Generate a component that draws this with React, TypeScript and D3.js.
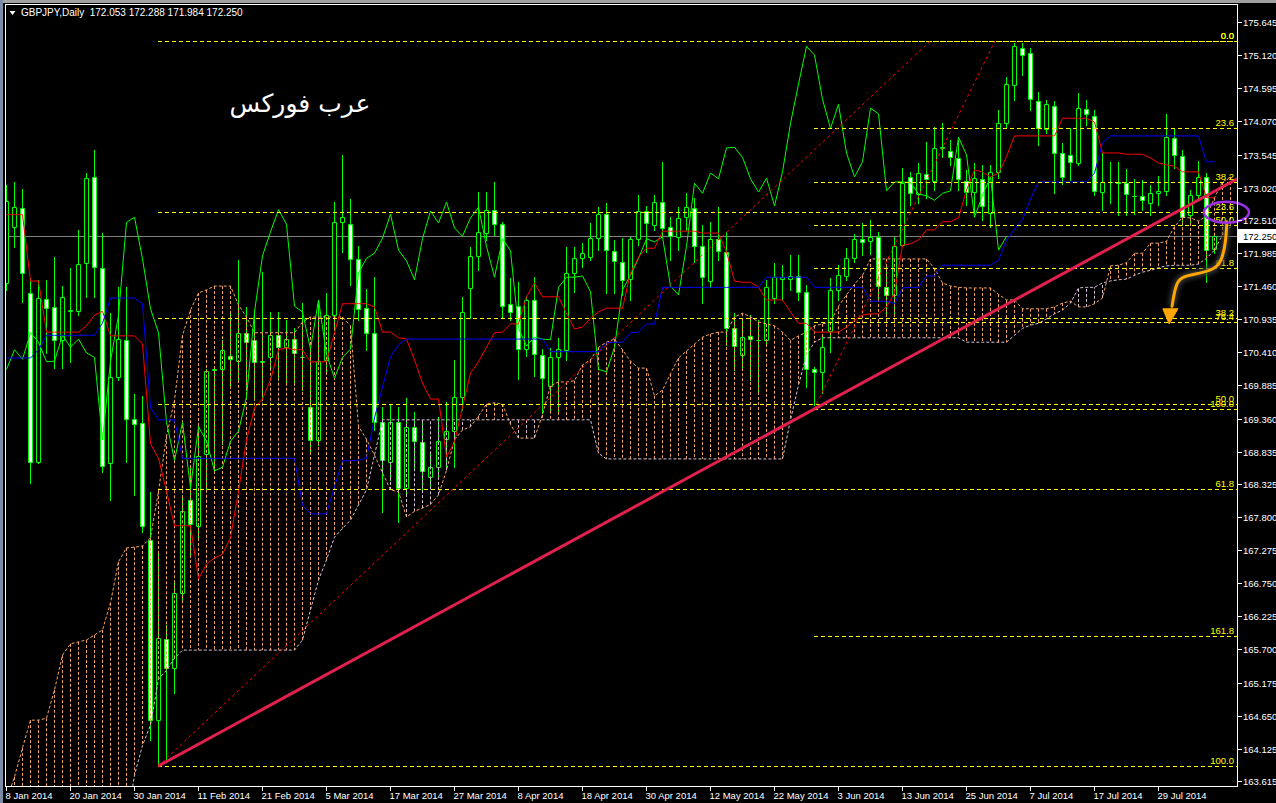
import React from "react";
import * as d3 from "d3";

// ---------- DATA ----------
const opens = [171.51,172.39,172.70,171.35,168.67,171.25,171.13,170.60,171.06,171.06,
171.82,173.19,171.74,168.65,170.02,170.60,169.35,169.29,167.43,164.58,
165.86,165.40,166.59,168.07,167.66,168.80,170.13,170.14,170.35,170.27,
170.72,170.60,170.26,170.34,170.68,170.49,170.62,170.34,169.54,169.02,
170.29,171.00,172.47,172.44,171.89,171.11,170.72,169.30,168.67,169.30,
168.26,169.23,168.99,168.43,168.60,169.03,169.16,169.70,171.43,171.94,
172.30,172.67,172.44,171.17,171.14,170.46,171.24,170.37,169.87,170.33,
170.45,171.67,171.90,171.92,172.22,172.60,172.02,171.84,171.57,172.21,
172.65,172.43,172.79,172.40,172.24,172.55,172.70,172.09,171.54,172.21,
172.00,170.79,170.37,170.67,170.60,170.60,171.27,171.57,171.57,171.62,
171.37,170.14,170.10,170.75,171.40,171.62,171.90,172.21,172.17,172.24,
171.44,171.32,172.11,173.19,172.92,173.24,173.13,173.65,173.60,173.49,
173.13,172.95,173.16,172.62,173.27,174.04,174.64,175.23,175.15,174.39,
173.95,174.31,173.57,173.54,173.41,174.27,174.16,172.95,173.11,173.11,
173.09,172.89,172.89,172.78,172.93,172.97,173.81,173.52,172.59,172.90,
173.19,172.053];
const highs = [173.06,173.11,173.00,171.59,171.56,171.56,171.92,171.46,171.74,172.35,
173.25,173.62,172.30,171.03,171.44,171.44,169.75,169.72,168.20,167.24,
166.09,166.78,168.15,168.61,169.24,170.14,170.19,170.60,171.06,171.87,
171.13,171.08,171.68,171.05,171.05,170.92,170.79,171.19,170.45,171.21,
171.35,172.79,173.54,172.84,172.09,171.41,171.60,169.54,169.57,169.54,
169.68,169.46,169.34,168.83,169.38,169.62,170.29,171.28,172.08,172.95,
172.95,173.11,172.48,171.59,171.52,171.30,171.60,170.46,170.48,170.64,
172.08,172.08,172.14,172.46,172.71,172.78,172.19,172.22,172.24,172.90,
172.73,172.90,173.43,172.55,172.71,172.93,172.86,172.43,172.48,172.71,
172.32,171.03,170.92,171.00,170.92,171.56,171.82,171.79,171.95,171.95,
171.48,170.18,170.68,171.59,171.79,172.06,172.29,172.46,172.51,172.32,
171.79,172.24,173.33,173.27,173.41,173.74,173.98,174.04,173.77,173.77,
173.30,173.41,173.38,173.38,174.25,174.77,175.31,175.31,175.23,174.54,
174.41,174.39,173.73,173.96,174.52,174.41,174.25,173.57,173.43,173.43,
173.32,173.16,173.14,173.06,173.20,174.19,173.96,173.62,172.98,173.44,
173.25,172.288];
const lows = [171.40,172.08,171.21,168.34,168.65,170.40,170.16,170.16,170.26,171.00,
171.29,171.29,168.51,168.07,169.97,168.67,168.15,167.56,164.26,163.87,
163.95,165.01,166.48,167.18,167.47,168.24,168.54,168.96,169.89,169.97,
169.81,169.65,169.65,170.13,169.97,169.92,169.89,169.81,168.81,168.94,
170.10,170.76,172.00,171.48,170.92,170.45,169.18,167.88,168.39,167.72,
168.15,168.54,168.23,168.26,168.42,168.59,168.59,169.49,170.95,171.71,
172.19,172.27,170.97,170.92,169.98,170.35,170.03,169.45,169.49,169.46,
170.29,171.37,171.76,171.87,172.03,171.35,171.35,171.32,171.24,172.11,
172.00,172.35,172.27,171.87,172.03,172.35,171.84,171.19,171.44,171.87,
170.52,170.13,170.17,169.97,169.76,170.52,171.19,171.24,171.40,171.24,
169.86,169.57,169.76,170.41,171.24,171.56,171.84,171.95,171.97,171.24,
171.00,171.03,172.09,172.74,172.78,172.86,172.98,173.50,173.38,172.98,
172.74,172.62,172.51,172.39,173.17,173.96,174.41,174.80,174.25,173.69,
173.88,172.93,173.08,173.14,173.38,174.01,172.90,172.67,172.78,172.59,
172.59,172.60,172.67,172.59,172.74,172.90,173.33,172.43,172.47,172.82,
171.52,171.984];
const closes = [172.81,172.71,171.67,168.67,171.27,171.11,170.60,171.29,171.08,171.81,
173.17,171.76,168.61,170.02,170.62,169.35,169.27,167.66,164.58,165.88,
165.40,166.59,167.89,167.69,168.77,170.11,170.14,170.45,170.30,170.72,
170.57,170.26,170.27,170.68,170.49,170.62,170.40,170.33,169.02,170.27,
171.00,172.47,172.55,171.89,171.10,170.72,169.30,168.70,169.30,168.26,
169.23,169.00,168.53,168.59,169.00,169.16,169.70,171.05,171.94,172.32,
172.67,172.44,171.14,171.05,170.46,171.24,170.38,170.00,170.33,170.46,
171.67,171.90,171.98,172.22,172.60,172.03,171.86,171.56,172.21,172.65,
172.46,172.79,172.38,172.25,172.54,172.71,172.09,171.60,172.21,172.02,
170.79,170.51,170.65,170.62,170.61,171.44,171.60,171.60,171.62,171.37,
170.14,170.10,170.49,171.40,171.63,171.90,172.21,172.16,172.24,171.46,
171.32,172.09,173.09,172.93,173.25,173.16,173.65,173.66,173.50,173.16,
172.95,173.17,172.73,173.27,174.04,174.66,175.26,175.12,174.42,173.96,
174.34,173.57,173.19,173.43,174.28,174.19,172.97,173.11,173.11,173.10,
172.92,172.89,172.82,172.93,172.97,173.82,173.54,172.55,172.90,173.19,
172.03,172.250];

const tenkan = [172.59,172.59,172.59,171.54,171.54,170.73,170.73,170.73,170.73,170.73,
170.83,171.00,171.06,170.67,170.67,170.67,170.67,170.54,168.96,168.73,
168.21,167.66,167.66,167.66,166.82,167.05,167.15,167.21,167.47,168.21,
169.02,169.53,169.67,169.97,170.45,170.48,170.45,170.45,170.26,170.26,
170.26,170.72,171.18,171.18,171.18,171.18,171.13,170.73,170.73,170.64,
170.62,170.29,169.92,169.67,169.67,168.75,168.99,169.54,170.08,170.26,
170.49,170.72,170.73,170.86,170.86,171.29,171.51,171.29,171.29,171.29,
171.03,170.78,170.81,170.95,171.05,171.11,171.11,171.11,171.67,171.92,
172.06,172.06,172.33,172.33,172.33,172.33,172.33,172.30,172.30,172.30,
172.00,171.54,171.52,171.52,171.44,171.24,171.24,171.24,171.05,170.87,
170.87,170.73,170.73,170.73,170.73,170.81,170.92,171.00,171.02,171.02,
171.13,171.35,172.11,172.13,172.19,172.35,172.35,172.48,172.48,172.54,
172.98,173.30,173.27,173.19,173.25,173.51,173.84,173.84,173.84,173.84,
173.84,173.84,174.12,174.12,174.12,174.12,174.06,173.57,173.57,173.57,
173.55,173.55,173.55,173.49,173.41,173.38,173.36,173.27,173.27,173.27,
172.86,172.86];
const kijun = [170.32,170.32,170.32,170.32,170.45,170.68,170.68,170.68,170.68,170.68,
170.68,170.68,170.87,171.27,171.27,171.27,171.27,171.18,169.53,169.34,
169.34,169.34,168.73,168.73,168.73,168.73,168.73,168.73,168.73,168.73,
168.73,168.73,168.73,168.73,168.73,168.73,168.73,167.99,167.85,167.85,
167.85,168.28,168.69,168.69,168.70,168.73,169.37,169.86,170.34,170.53,
170.62,170.62,170.62,170.62,170.62,170.62,170.62,170.62,170.62,170.62,
170.62,170.62,170.62,170.62,170.62,170.62,170.62,170.62,170.42,170.42,
170.42,170.42,170.42,170.42,170.42,170.56,170.57,170.57,170.72,170.73,
170.86,170.86,171.44,171.44,171.44,171.44,171.44,171.44,171.44,171.44,
171.44,171.44,171.44,171.44,171.44,171.60,171.60,171.60,171.60,171.60,
171.60,171.44,171.44,171.44,171.44,171.44,171.44,171.44,171.22,171.22,
171.22,171.18,171.43,171.44,171.44,171.62,171.62,171.79,171.79,171.79,
171.79,171.79,171.79,171.79,171.87,172.19,172.36,172.52,172.84,173.11,
173.11,173.11,173.11,173.11,173.11,173.11,173.25,173.73,173.84,173.84,
173.84,173.84,173.84,173.84,173.84,173.84,173.84,173.84,173.84,173.84,
173.43,173.43];
const spanA = [163.31,163.68,164.14,164.58,164.58,164.61,165.06,165.61,165.79,165.82,
165.85,165.93,166.01,166.44,167.09,167.31,167.32,167.34,167.47,168.21,
169.08,169.65,170.68,171.08,171.35,171.40,171.46,171.46,171.46,171.16,
170.97,170.72,170.72,170.72,170.72,170.72,170.72,170.89,170.97,170.97,
170.97,170.97,170.97,170.83,169.24,169.03,168.78,168.50,168.23,168.20,
167.80,167.89,167.94,168.00,168.15,168.54,169.02,169.18,169.23,169.40,
169.59,169.61,169.59,169.27,169.05,169.05,169.05,169.42,169.88,169.94,
169.94,169.96,170.21,170.29,170.49,170.57,170.62,170.45,170.27,170.16,
170.16,169.72,169.81,170.07,170.32,170.43,170.54,170.65,170.70,170.73,
170.73,170.97,171.03,170.97,170.89,170.86,170.83,170.73,170.60,170.67,
170.73,170.83,170.86,170.89,171.14,171.32,171.49,171.63,171.89,171.89,
171.89,171.89,171.89,171.89,171.89,171.89,171.74,171.51,171.46,171.44,
171.43,171.43,171.43,171.43,171.33,171.24,171.24,171.10,171.10,171.10,
171.10,171.13,171.19,171.22,171.13,171.13,171.18,171.27,171.78,171.79,
171.83,171.98,171.98,172.14,172.14,172.17,172.40,172.55,172.54,172.49,
172.57,172.86,173.11,173.19];
const spanB = [162.90,162.90,162.90,162.90,162.90,162.90,162.90,162.90,162.90,162.90,
162.90,162.90,162.90,162.90,162.90,162.90,163.71,164.18,164.50,165.23,
165.37,165.56,165.69,165.69,165.69,165.69,165.69,165.69,165.69,165.69,
165.69,165.69,165.69,165.69,165.69,165.69,165.69,165.85,166.33,166.80,
167.12,167.48,167.62,167.75,167.99,168.23,168.78,169.34,169.34,169.34,
169.34,169.34,169.34,169.34,169.34,169.34,169.34,169.34,169.34,169.34,
169.34,169.34,169.34,169.34,169.34,169.34,169.34,169.34,169.34,169.34,
169.34,169.34,169.34,169.34,168.81,168.72,168.72,168.72,168.72,168.72,
168.72,168.72,168.72,168.72,168.72,168.72,168.72,168.72,168.72,168.72,
168.72,168.72,168.72,168.72,168.72,168.72,168.72,168.72,169.34,169.89,
170.37,170.57,170.64,170.64,170.64,170.64,170.64,170.64,170.64,170.64,
170.64,170.64,170.64,170.64,170.64,170.64,170.64,170.64,170.64,170.64,
170.57,170.57,170.57,170.57,170.57,170.57,170.68,170.79,170.84,170.87,
170.94,171.02,171.08,171.19,171.43,171.44,171.44,171.51,171.54,171.56,
171.57,171.63,171.68,171.71,171.75,171.78,171.79,171.79,171.79,171.81,
171.90,172.03,172.27,172.40];

const chikouShift = 26;

const priceTicks = [175.645,175.120,174.595,174.070,173.545,173.020,172.510,171.985,171.460,
170.935,170.410,169.885,169.360,168.835,168.325,167.800,167.275,166.750,166.225,165.700,
165.175,164.650,164.125,163.615];
const dateBars = [0,8,16,24,32,40,48,56,64,72,80,88,96,104,112,120,128,136,144];
const dateLabels = ["8 Jan 2014","20 Jan 2014","30 Jan 2014","11 Feb 2014","21 Feb 2014",
"5 Mar 2014","17 Mar 2014","27 Mar 2014","8 Apr 2014","18 Apr 2014","30 Apr 2014",
"12 May 2014","22 May 2014","3 Jun 2014","13 Jun 2014","25 Jun 2014","7 Jul 2014",
"17 Jul 2014","29 Jul 2014"];

const fibAStartBar = 19;
const fibALevels = [175.34,172.63,170.95,169.595,168.24,163.85];
const fibALabels = ["0.0","23.6","38.2","50.0","61.8","100.0"];
const fibBStartBar = 101;
const fibBLevels = [175.34,173.96,173.11,172.43,171.74,170.89,169.51,165.91];
const fibBLabels = ["0.0","23.6","38.2","50.0","61.8","76.4","100.0","161.8"];
const fibADiag = [[19,163.85],[115.5,175.34]];
const fibBDiag = [[101,169.51],[123.6,175.34]];
const trendPts = [[19,163.85],[150,172.89]];

const symbol = "GBPJPY,Daily";
const currentPrice = 172.25;
const arabicTitle = "عرب فوركس";

// annotation (bar, price) points
const arrowPath = [[152.6,172.48],[152.5,172.19],[152.1,171.92],[151.4,171.75],[149.6,171.67],
[147.6,171.63],[146.5,171.56],[146.1,171.40],[145.75,171.14]];
const arrowHead = [[144.6,171.10],[146.5,171.10],[145.4,170.86]];
const ellipseCenter = [152.56,172.63];

const FONT = "'Liberation Sans', Arial, sans-serif";

export default function App() {
  const x = d3.scaleLinear().domain([0, 151]).range([6, 1214]);
  const y = d3.scaleLinear().domain([175.994, 163.536]).range([0, 786]);
  const cx = (i: number) => Math.round(x(i)) + 0.5;
  const ry = (v: number) => Math.round(y(v)) + 0.5;
  const line = d3.line<number[]>().x((d) => d[0]).y((d) => d[1]);

  const PL = 5, PT = 4, PR = 1237, PB = 786;

  const spanAPath = line(spanA.map((v, i) => [cx(i), y(v)]));
  const spanBPath = line(spanB.map((v, i) => [cx(i), y(v)]));
  const chikouPath = line(closes.slice(chikouShift).map((c, i) => [cx(i), y(c)]));
  const tenkanPath = line(tenkan.map((v, i) => [cx(i), y(v)]));
  const kijunPath = line(kijun.map((v, i) => [cx(i), y(v)]));

  const slope = (trendPts[1][1] - trendPts[0][1]) / (trendPts[1][0] - trendPts[0][0]);
  const endBar = x.invert(PR);
  const trendEnd = trendPts[0][1] + slope * (endBar - trendPts[0][0]);

  const arrowLine = d3.line<number[]>().x((d) => x(d[0])).y((d) => y(d[1])).curve(d3.curveBasis);

  return (
    <svg width={1276} height={803} style={{ position: "absolute", left: 0, top: 0, background: "#000" }}
      fontFamily={FONT}>
      <defs>
        <clipPath id="plot"><rect x={PL + 1} y={PT + 1} width={PR - PL - 1} height={PB - PT - 1} /></clipPath>
        <filter id="glow" x="-50%" y="-50%" width="200%" height="200%">
          <feGaussianBlur stdDeviation="2.5" />
        </filter>
      </defs>
      <rect x={0} y={0} width={1276} height={803} fill="#000" />
      <rect x={0} y={0} width={1276} height={3} fill="#a0a0a0" />
      <rect x={0} y={0} width={3} height={803} fill="#7b8aa6" />

      <g clipPath="url(#plot)">
        {/* current price line */}
        <line x1={PL} x2={PR} y1={ry(currentPrice)} y2={ry(currentPrice)} stroke="#808080" />

        {/* candles */}
        {opens.map((o, i) => {
          const c = closes[i];
          const X = Math.round(x(i));
          const top = Math.round(y(Math.max(o, c)));
          const bot = Math.round(y(Math.min(o, c)));
          const bull = c >= o;
          return (
            <g key={"c" + i}>
              <line x1={X + 0.5} x2={X + 0.5} y1={Math.round(y(highs[i]))} y2={Math.round(y(lows[i])) + 1} stroke="#00ff00" />
              <path d={`M${X - 1.5},${top + 0.5}H${X + 2.5}V${bot + 0.5}H${X - 1.5}Z`}
                fill={bull ? "#000" : "#fff"} stroke="#00ff00" />
            </g>
          );
        })}

        {/* Ichimoku cloud hatch */}
        {spanA.map((a, i) => (
          <line key={"h" + i} x1={cx(i)} x2={cx(i)} y1={y(a)} y2={y(spanB[i])}
            stroke={a >= spanB[i] ? "#F4A460" : "#D8BFD8"} strokeDasharray="3,2" />
        ))}
        <path d={spanAPath || ""} fill="none" stroke="#F4A460" strokeDasharray="3,2" />
        <path d={spanBPath || ""} fill="none" stroke="#D8BFD8" strokeDasharray="3,2" />
        <path d={chikouPath || ""} fill="none" stroke="#00ff00" />
        <path d={tenkanPath || ""} fill="none" stroke="#ff0000" />
        <path d={kijunPath || ""} fill="none" stroke="#0000ff" />

        {/* fibonacci */}
        {fibALevels.map((v, i) => (
          <line key={"fa" + i} x1={x(fibAStartBar)} x2={PR} y1={ry(v)} y2={ry(v)} stroke="#ffff00" strokeDasharray="4,3" />
        ))}
        {fibBLevels.map((v, i) => (
          <line key={"fb" + i} x1={x(fibBStartBar)} x2={PR} y1={ry(v)} y2={ry(v)} stroke="#ffff00" strokeDasharray="4,3" />
        ))}
        <line x1={x(fibADiag[0][0])} y1={y(fibADiag[0][1])} x2={x(fibADiag[1][0])} y2={y(fibADiag[1][1])}
          stroke="#ff0000" strokeDasharray="3,3" />
        <line x1={x(fibBDiag[0][0])} y1={y(fibBDiag[0][1])} x2={x(fibBDiag[1][0])} y2={y(fibBDiag[1][1])}
          stroke="#ff0000" strokeDasharray="3,3" />

        {/* trend line */}
        <line x1={x(trendPts[0][0])} y1={y(trendPts[0][1])} x2={x(endBar)} y2={y(trendEnd)}
          stroke="#E2204E" strokeWidth={3} />

        {fibALevels.map((v, i) => (
          <text key={"fal" + i} x={1234} y={Math.round(y(v)) - 2} fill="#ffff00" fontSize={9.5} textAnchor="end">{fibALabels[i]}</text>
        ))}
        {fibBLevels.map((v, i) => (
          <text key={"fbl" + i} x={1234} y={Math.round(y(v)) - 2} fill="#ffff00" fontSize={9.5} textAnchor="end">{fibBLabels[i]}</text>
        ))}
      </g>

      {/* arrow */}
      <path d={arrowLine(arrowPath) || ""} fill="none" stroke="#3a3a3a" strokeWidth={7} filter="url(#glow)" />
      <path d={arrowLine(arrowPath) || ""} fill="none" stroke="#FFA500" strokeWidth={3} strokeLinecap="round" />
      <path d={(d3.line<number[]>().x((d) => x(d[0])).y((d) => y(d[1])))(arrowHead) + "Z"} fill="#FFA500" stroke="#FFA500" />
      {/* ellipse */}
      <ellipse cx={x(ellipseCenter[0])} cy={y(ellipseCenter[1])} rx={22.5} ry={10.5} fill="none" stroke="#9B30E6" strokeWidth={2.5} />

      {/* frame */}
      <line x1={PL} x2={PR + 1} y1={PT + 0.5} y2={PT + 0.5} stroke="#fff" />
      <line x1={PL + 0.5} x2={PL + 0.5} y1={PT} y2={PB + 1} stroke="#fff" />
      <line x1={PR + 0.5} x2={PR + 0.5} y1={PT} y2={PB + 1} stroke="#fff" />
      <line x1={PL} x2={PR + 1} y1={PB + 0.5} y2={PB + 0.5} stroke="#fff" />

      {/* price axis */}
      {priceTicks.map((v, i) => (
        <g key={"pt" + i}>
          <line x1={PR + 1} x2={PR + 5} y1={ry(v)} y2={ry(v)} stroke="#fff" />
          <text x={PR + 6} y={Math.round(y(v)) + 4} fill="#fff" fontSize={9.5}>{v.toFixed(3)}</text>
        </g>
      ))}
      <rect x={PR + 1} y={Math.round(y(currentPrice)) - 7} width={39} height={14} fill="#fff" />
      <text x={PR + 6} y={Math.round(y(currentPrice)) + 4} fill="#000" fontSize={9.5}>{currentPrice.toFixed(3)}</text>

      {/* time axis */}
      {dateBars.map((b, i) => (
        <g key={"dt" + i}>
          <line x1={cx(b)} x2={cx(b)} y1={PB + 1} y2={PB + 5} stroke="#fff" />
          <text x={cx(b) - 1} y={799} fill="#fff" fontSize={9.5}>{dateLabels[i]}</text>
        </g>
      ))}

      {/* header */}
      <path d="M9.5,11 L15.5,11 L12.5,15 Z" fill="#fff" />
      <text x={21} y={16} fill="#fff" fontSize={10} xmlSpace="preserve">
        {`${symbol}  ${opens[151].toFixed(3)} ${highs[151].toFixed(3)} ${lows[151].toFixed(3)} ${closes[151].toFixed(3)}`}
      </text>

      {/* arabic title */}
      <text x={300} y={112} fill="#fff" fontSize={25} textAnchor="middle" fontFamily="'DejaVu Sans', sans-serif" direction="rtl">
        {arabicTitle}
      </text>
    </svg>
  );
}
